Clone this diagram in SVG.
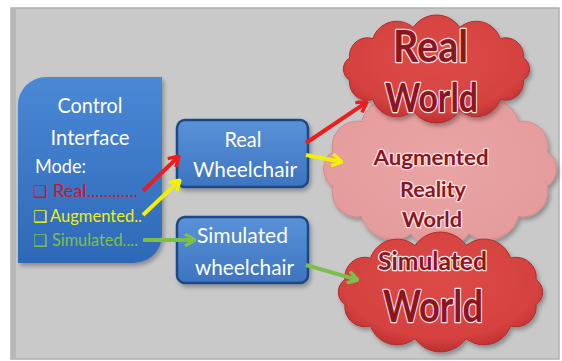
<svg xmlns="http://www.w3.org/2000/svg" width="562" height="361" viewBox="0 0 562 361">
<style>
.wt{font-family:Lato,"Liberation Sans",sans-serif;fill:#ffffff;text-anchor:middle}
.ct{font-family:Lato,"Liberation Sans",sans-serif;font-weight:bold;fill:#8a1622;stroke:#fbe3e3;stroke-width:2.5;paint-order:stroke;stroke-linejoin:round;text-anchor:middle}
.box{stroke:#1d4a85;stroke-width:2.5;fill:url(#gBox)}
.arr{stroke-width:4;fill:none;stroke-linecap:butt}
.cb{font-family:"DejaVu Sans",sans-serif;font-size:16px}
.li{font-family:Lato,"Liberation Sans",sans-serif;font-size:17.5px}
</style>
<defs>
<linearGradient id="gBox" x1="0" y1="0" x2="0" y2="1"><stop offset="0" stop-color="#5a92d8"/><stop offset="1" stop-color="#3d74c0"/></linearGradient>
<linearGradient id="gCtl" x1="0" y1="0" x2="0" y2="1"><stop offset="0" stop-color="#4a88d6"/><stop offset="1" stop-color="#2e69b8"/></linearGradient>
<radialGradient id="gRed" cx="0.5" cy="0.4" r="0.6"><stop offset="0" stop-color="#dd4a48"/><stop offset="0.8" stop-color="#d54240"/><stop offset="1" stop-color="#bd3030"/></radialGradient>
<radialGradient id="gPink" cx="0.5" cy="0.45" r="0.6"><stop offset="0" stop-color="#eaa4a4"/><stop offset="0.85" stop-color="#e59c9c"/><stop offset="1" stop-color="#d88888"/></radialGradient>
<filter id="sh" x="-10%" y="-10%" width="130%" height="130%"><feDropShadow dx="2" dy="3" stdDeviation="2" flood-color="#000" flood-opacity="0.3"/></filter>
<marker id="mR" viewBox="0 0 12 14" refX="9" refY="7" markerWidth="12" markerHeight="14" markerUnits="userSpaceOnUse" orient="auto"><path d="M1,1 L11,7 L1,13" fill="none" stroke="#ee1c1c" stroke-width="3.5"/></marker>
<marker id="mY" viewBox="0 0 12 14" refX="9" refY="7" markerWidth="12" markerHeight="14" markerUnits="userSpaceOnUse" orient="auto"><path d="M1,1 L11,7 L1,13" fill="none" stroke="#f2f200" stroke-width="3.5"/></marker>
<marker id="mG" viewBox="0 0 12 14" refX="9" refY="7" markerWidth="12" markerHeight="14" markerUnits="userSpaceOnUse" orient="auto"><path d="M1,1 L11,7 L1,13" fill="none" stroke="#7cc04a" stroke-width="3.5"/></marker>
</defs>
<rect x="0" y="0" width="562" height="361" fill="#ffffff"/>
<rect x="11" y="8" width="548" height="351" fill="#c9c9c9" stroke="#b0b0b0" stroke-width="1.5"/>
<rect x="12" y="9" width="4" height="349" fill="#b8b8b8"/>

<g id="control-interface">
<path d="M46,77 H162 V235 A28,28 0 0 1 134,263 H18 V105 A28,28 0 0 1 46,77 Z" fill="url(#gCtl)" filter="url(#sh)"/>
<text class="wt" x="90" y="113" font-size="22" textLength="65" lengthAdjust="spacingAndGlyphs">Control</text>
<text class="wt" x="90" y="145" font-size="22" textLength="79" lengthAdjust="spacingAndGlyphs">Interface</text>
<text class="wt" x="35" y="173" font-size="20" style="text-anchor:start" textLength="51" lengthAdjust="spacingAndGlyphs">Mode:</text>
<text class="cb" x="33" y="197" fill="#c8162e">❑</text>
<text class="li" x="53" y="197" fill="#c8162e" textLength="85" lengthAdjust="spacingAndGlyphs">Real............</text>
<text class="cb" x="33" y="222" fill="#eeee10">❑</text>
<text class="li" x="50" y="222" fill="#eeee10" textLength="92" lengthAdjust="spacingAndGlyphs">Augmented..</text>
<text class="cb" x="33" y="246" fill="#7cc04a">❑</text>
<text class="li" x="52" y="246" fill="#7cc04a" textLength="86" lengthAdjust="spacingAndGlyphs">Simulated....</text>
</g>

<g id="real-wheelchair">
<rect class="box" x="177" y="120" width="131" height="67" rx="8" filter="url(#sh)"/>
<text class="wt" x="243" y="147" font-size="21" textLength="37" lengthAdjust="spacingAndGlyphs">Real</text>
<text class="wt" x="245" y="177" font-size="21" textLength="104" lengthAdjust="spacingAndGlyphs">Wheelchair</text>
</g>

<g id="simulated-wheelchair">
<rect class="box" x="177" y="217" width="131" height="66" rx="8" filter="url(#sh)"/>
<text class="wt" x="242.5" y="243" font-size="21" textLength="91" lengthAdjust="spacingAndGlyphs">Simulated</text>
<text class="wt" x="244.5" y="275" font-size="21" textLength="99" lengthAdjust="spacingAndGlyphs">wheelchair</text>
</g>

<g id="augmented-reality-world">
<path d="M547.2,186.4 A25,25 0 0 1 518.5,216.4 A32,32 0 0 1 468.7,233.7 A34,34 0 0 1 411.3,233.7 A32,32 0 0 1 361.5,216.4 A25,25 0 0 1 332.8,186.4 A21,21 0 0 1 332.8,151.6 A25,25 0 0 1 361.5,121.6 A32,32 0 0 1 411.3,104.3 A34,34 0 0 1 468.7,104.3 A32,32 0 0 1 518.5,121.6 A25,25 0 0 1 547.2,151.6 A21,21 0 0 1 547.2,186.4 Z" fill="url(#gPink)" stroke="#d58a8a" stroke-width="1" filter="url(#sh)"/>
<text class="ct" x="431" y="165" font-size="21" stroke-width="2" textLength="115" lengthAdjust="spacingAndGlyphs">Augmented</text>
<text class="ct" x="433" y="197" font-size="21" stroke-width="2" textLength="66" lengthAdjust="spacingAndGlyphs">Reality</text>
<text class="ct" x="432" y="227" font-size="21" stroke-width="2" textLength="60" lengthAdjust="spacingAndGlyphs">World</text>
</g>

<g id="real-world">
<path d="M523.4,80.1 A18,18 0 0 1 500.1,99.4 A25,25 0 0 1 459.8,110.5 A28,28 0 0 1 413.2,110.5 A25,25 0 0 1 372.9,99.4 A18,18 0 0 1 349.6,80.1 A13,13 0 0 1 349.6,57.9 A18,18 0 0 1 372.9,38.6 A25,25 0 0 1 413.2,27.5 A28,28 0 0 1 459.8,27.5 A25,25 0 0 1 500.1,38.6 A18,18 0 0 1 523.4,57.9 A13,13 0 0 1 523.4,80.1 Z" fill="url(#gRed)" stroke="#b02c2c" stroke-width="1" filter="url(#sh)"/>
<text class="ct" x="430.5" y="62" font-size="44" textLength="75" lengthAdjust="spacingAndGlyphs">Real</text>
<text class="ct" x="431.5" y="112" font-size="40" textLength="93" lengthAdjust="spacingAndGlyphs">World</text>
</g>

<g id="simulated-world">
<path d="M536.1,304.4 A20,20 0 0 1 510.5,325.9 A28,28 0 0 1 466.1,338.4 A31,31 0 0 1 414.9,338.4 A28,28 0 0 1 370.5,325.9 A20,20 0 0 1 344.9,304.4 A15,15 0 0 1 344.9,279.6 A20,20 0 0 1 370.5,258.1 A28,28 0 0 1 414.9,245.6 A31,31 0 0 1 466.1,245.6 A28,28 0 0 1 510.5,258.1 A20,20 0 0 1 536.1,279.6 A15,15 0 0 1 536.1,304.4 Z" fill="url(#gRed)" stroke="#b02c2c" stroke-width="1" filter="url(#sh)"/>
<text class="ct" x="432.5" y="270" font-size="25" textLength="109" lengthAdjust="spacingAndGlyphs">Simulated</text>
<text class="ct" x="433" y="322" font-size="44" textLength="100" lengthAdjust="spacingAndGlyphs">World</text>
</g>

<g id="connectors">
<line class="arr" x1="143" y1="191" x2="177.6" y2="157.4" stroke="#ee1c1c" marker-end="url(#mR)"/>
<line class="arr" x1="143" y1="215" x2="178.6" y2="181.4" stroke="#f2f200" marker-end="url(#mY)"/>
<line class="arr" x1="143" y1="240" x2="193" y2="240" stroke="#7cc04a" marker-end="url(#mG)"/>
<line class="arr" x1="306" y1="143" x2="365.3" y2="103.1" stroke="#ee1c1c" marker-end="url(#mR)"/>
<line class="arr" x1="306" y1="155" x2="340" y2="161.6" stroke="#f2f200" marker-end="url(#mY)"/>
<line class="arr" x1="306" y1="265" x2="356" y2="279.4" stroke="#7cc04a" marker-end="url(#mG)"/>
</g>
</svg>
